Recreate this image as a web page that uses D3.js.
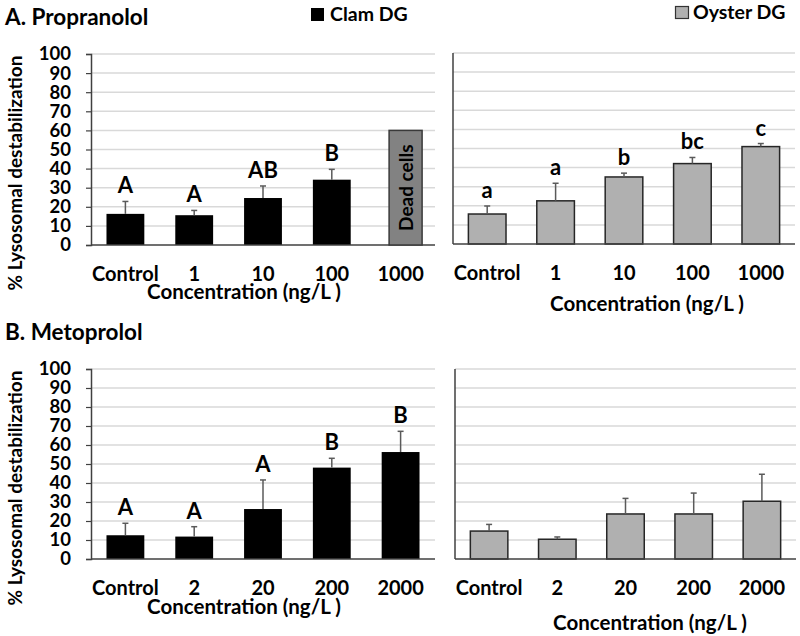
<!DOCTYPE html>
<html>
<head>
<meta charset="utf-8">
<script src="https://cdn.jsdelivr.net/npm/d3@7"></script>
<style>
  html, body { margin: 0; padding: 0; background: #fff; }
  svg { display: block; }
  text { font-family: Lato, "Open Sans", sans-serif; font-weight: 700; fill: #000; }
</style>
</head>
<body>
<svg id="chart" width="800" height="636"></svg>
<script>
// ---------- data ----------
const propCats = ["Control", "1", "10", "100", "1000"];
const metoCats = ["Control", "2", "20", "200", "2000"];
const yTicks = [0, 10, 20, 30, 40, 50, 60, 70, 80, 90, 100];

const propClamMean   = [16.3, 15.6, 24.6, 34.2, null];
const propClamErr    = [6.5, 2.5, 6.3, 5.4, null];
const propClamLetter = ["A", "A", "AB", "B", ""];
const deadCellsValue = 60;   // 1000 ng/L clam: dead cells

const propOysterMean   = [15.7, 22.6, 35.1, 42.1, 51.0];
const propOysterErr    = [4.2, 9.2, 2.0, 3.2, 1.6];
const propOysterLetter = ["a", "a", "b", "bc", "c"];

const metoClamMean   = [12.5, 11.8, 26.3, 48.1, 56.3];
const metoClamErr    = [6.3, 5.2, 15.3, 4.9, 10.9];
const metoClamLetter = ["A", "A", "A", "B", "B"];

const metoOysterMean   = [14.7, 10.4, 23.7, 23.7, 30.4];
const metoOysterErr    = [3.5, 1.2, 8.2, 11.0, 14.2];
const metoOysterLetter = ["", "", "", "", ""];

// ---------- drawing ----------
const svg = d3.select("#chart");
const CLAM = "#000000", OYSTER = "#b0b0b0", DEAD = "#828282";

function panel(opt) {
  const g = svg.append("g");
  const x = d3.scaleBand().domain(opt.cats).range([opt.x0, opt.x1])
    .paddingInner(0.45).paddingOuter(0.225);
  const y = d3.scaleLinear().domain([0, 100]).range([opt.yb, opt.yt]);

  // gridlines
  g.append("g").selectAll("line").data(yTicks.filter(t => t > 0)).join("line")
    .attr("x1", opt.x0).attr("x2", opt.x1)
    .attr("y1", d => y(d)).attr("y2", d => y(d))
    .attr("stroke", "#d9d9d9").attr("stroke-width", 1.5);

  // y axis
  if (opt.showY) {
    const ax = g.append("g").attr("transform", `translate(${opt.x0},0)`)
      .call(d3.axisLeft(y).tickValues(yTicks).tickSize(5).tickPadding(15));
    ax.select(".domain").attr("stroke", "#404040").attr("stroke-width", 1.5);
    ax.selectAll(".tick line").attr("stroke", "#404040").attr("stroke-width", 1.2);
    ax.selectAll(".tick text").style("font-size", "18.5px").attr("fill", "#000")
      .style("font-family", "Lato, sans-serif").style("font-weight", 700);
  } else {
    g.append("line").attr("x1", opt.x0).attr("x2", opt.x0)
      .attr("y1", y(0)).attr("y2", y(100))
      .attr("stroke", "#404040").attr("stroke-width", 1.5);
  }

  // bars
  const rows = opt.cats.map((c, i) => ({ c, m: opt.mean[i], e: opt.err[i], l: opt.letter[i] }))
    .filter(d => d.m !== null);
  g.append("g").selectAll("rect").data(rows).join("rect")
    .attr("x", d => x(d.c)).attr("width", x.bandwidth())
    .attr("y", d => y(d.m)).attr("height", d => y(0) - y(d.m))
    .attr("fill", opt.fill)
    .attr("stroke", opt.fill === CLAM ? "none" : "#262626")
    .attr("stroke-width", 1.5);

  // error bars (upper only)
  const eg = g.append("g").attr("stroke", "#5a5a5a").attr("stroke-width", 1.5);
  eg.selectAll("line.v").data(rows).join("line").attr("class", "v")
    .attr("x1", d => x(d.c) + x.bandwidth() / 2).attr("x2", d => x(d.c) + x.bandwidth() / 2)
    .attr("y1", d => y(d.m)).attr("y2", d => y(d.m + d.e));
  eg.selectAll("line.c").data(rows).join("line").attr("class", "c")
    .attr("x1", d => x(d.c) + x.bandwidth() / 2 - 3).attr("x2", d => x(d.c) + x.bandwidth() / 2 + 3)
    .attr("y1", d => y(d.m + d.e)).attr("y2", d => y(d.m + d.e));

  // letters
  g.append("g").selectAll("text").data(rows.filter(d => d.l)).join("text")
    .attr("x", d => x(d.c) + x.bandwidth() / 2)
    .attr("y", d => y(d.m + d.e) - 8)
    .attr("text-anchor", "middle").style("font-size", "22px")
    .text(d => d.l);

  // baseline
  g.append("line").attr("x1", opt.x0).attr("x2", opt.x1)
    .attr("y1", y(0)).attr("y2", y(0))
    .attr("stroke", "#404040").attr("stroke-width", 1.5);

  // x tick labels
  g.append("g").selectAll("text").data(opt.cats).join("text")
    .attr("x", d => x(d) + x.bandwidth() / 2)
    .attr("y", y(0) + 36)
    .attr("text-anchor", "middle").style("font-size", "20px")
    .text(d => d);

  // x title
  g.append("text").attr("x", opt.titleX).attr("y", opt.titleY)
    .attr("text-anchor", "middle").style("font-size", "20.5px")
    .text("Concentration (ng/L )");

  return { g, x, y };
}

// Panel A clam
const pA = panel({ cats: propCats, mean: propClamMean, err: propClamErr, letter: propClamLetter,
  fill: CLAM, x0: 91, x1: 435, yb: 245, yt: 54, showY: true, titleX: 244, titleY: 299 });
// dead cells box
{
  const cx = pA.x(propCats[4]) + pA.x.bandwidth() / 2 + 5;
  pA.g.append("rect").attr("x", cx - 16.5).attr("width", 33)
    .attr("y", pA.y(deadCellsValue)).attr("height", pA.y(0) - pA.y(deadCellsValue))
    .attr("fill", DEAD).attr("stroke", "#3a3a3a").attr("stroke-width", 1.5);
  pA.g.append("text")
    .attr("transform", `translate(${cx + 7},${(pA.y(deadCellsValue) + pA.y(0)) / 2}) rotate(-90)`)
    .attr("text-anchor", "middle").style("font-size", "19px").text("Dead cells");
}
panel({ cats: propCats, mean: propOysterMean, err: propOysterErr, letter: propOysterLetter,
  fill: OYSTER, x0: 453, x1: 795, yb: 244, yt: 53, showY: false, titleX: 647, titleY: 311 });
panel({ cats: metoCats, mean: metoClamMean, err: metoClamErr, letter: metoClamLetter,
  fill: CLAM, x0: 91, x1: 435, yb: 559, yt: 369, showY: true, titleX: 244, titleY: 614 });
panel({ cats: metoCats, mean: metoOysterMean, err: metoOysterErr, letter: metoOysterLetter,
  fill: OYSTER, x0: 455, x1: 796, yb: 559, yt: 369, showY: false, titleX: 650, titleY: 630 });

// y-axis titles
[173, 488].forEach(cy => {
  svg.append("text").attr("transform", `translate(22,${cy}) rotate(-90)`)
    .attr("text-anchor", "middle").style("font-size", "19px")
    .text("% Lysosomal destabilization");
});

// panel titles
svg.append("text").attr("x", 5).attr("y", 25).style("font-size", "22.5px").text("A. Propranolol");
svg.append("text").attr("x", 5).attr("y", 340).style("font-size", "22.5px").text("B. Metoprolol");

// legends
svg.append("rect").attr("x", 311).attr("y", 8).attr("width", 13).attr("height", 13).attr("fill", CLAM);
svg.append("text").attr("x", 330).attr("y", 21).style("font-size", "19.5px").text("Clam DG");
svg.append("rect").attr("x", 675.5).attr("y", 6.5).attr("width", 13).attr("height", 12)
  .attr("fill", OYSTER).attr("stroke", "#333").attr("stroke-width", 1.2);
svg.append("text").attr("x", 693).attr("y", 19).style("font-size", "19.5px").text("Oyster DG");
</script>
</body>
</html>
